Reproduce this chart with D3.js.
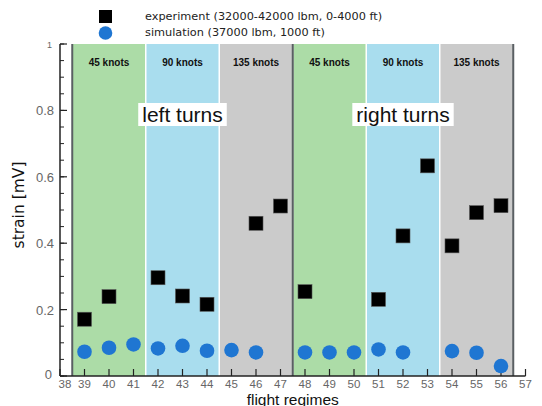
<!DOCTYPE html>
<html><head><meta charset="utf-8">
<script src="https://cdn.jsdelivr.net/npm/d3@7"></script>
<style>body{margin:0;background:#fff}svg{display:block}text{font-family:"Liberation Sans",Arial,sans-serif}</style>
</head><body><svg id="c" width="542" height="406"></svg>
<script>
const expX = [39, 40, 42, 43, 44, 46, 47, 48, 51, 52, 53, 54, 55, 56];
const expY = [0.171, 0.239, 0.296, 0.241, 0.216, 0.46, 0.512, 0.254, 0.231, 0.422, 0.633, 0.392, 0.492, 0.513];
const simX = [39, 40, 41, 42, 43, 44, 45, 46, 48, 49, 50, 51, 52, 54, 55, 56];
const simY = [0.073, 0.085, 0.095, 0.083, 0.091, 0.076, 0.078, 0.071, 0.071, 0.071, 0.071, 0.080, 0.071, 0.075, 0.070, 0.030];
const bandStarts = [38.5, 41.5, 44.5, 47.5, 50.5, 53.5];
const bandLabels = ["45 knots", "90 knots", "135 knots", "45 knots", "90 knots", "135 knots"];
const bandColors = ["#acdca7", "#a9ddee", "#cbcbcb", "#acdca7", "#a9ddee", "#cbcbcb"];
const dividers = [38.5, 47.5, 56.5];
const turnLabels = ["left turns", "right turns"];
const turnX = [43, 52];
const xTicks = d3.range(38, 58);
const yMajor = [0, 0.2, 0.4, 0.6, 0.8, 1];
const yMinor = d3.range(0, 1.0001, 0.05);
const legendLabels = ["experiment (32000-42000 lbm, 0-4000 ft)", "simulation (37000 lbm, 1000 ft)"];

const svg = d3.select("#c");
const x = d3.scaleLinear().domain([38, 57]).range([60, 525.5]);
const y = d3.scaleLinear().domain([0, 1]).range([376, 44]);

// bands
svg.append("g").selectAll("rect").data(bandStarts).join("rect")
  .attr("x", d => x(d)).attr("y", y(1))
  .attr("width", x(3) - x(0)).attr("height", y(0) - y(1))
  .attr("fill", (d, i) => bandColors[i]);
svg.append("g").selectAll("line").data(bandStarts.slice(1)).join("line")
  .attr("x1", d => x(d)).attr("x2", d => x(d)).attr("y1", y(1)).attr("y2", y(0))
  .attr("stroke", "#fff").attr("stroke-width", 1.5);
svg.append("g").selectAll("line").data(dividers).join("line")
  .attr("x1", d => x(d)).attr("x2", d => x(d)).attr("y1", y(1)).attr("y2", y(0))
  .attr("stroke", "#5a5f63").attr("stroke-width", 2);

// knots labels
svg.append("g").selectAll("text").data(bandStarts).join("text")
  .attr("x", d => x(d + 1.5)).attr("y", 66).attr("text-anchor", "middle")
  .attr("font-size", 10).attr("font-weight", "bold").attr("fill", "#111")
  .text((d, i) => bandLabels[i]);

// turn labels with white box
turnLabels.forEach((t, i) => {
  const g = svg.append("g");
  const tx = g.append("text").attr("x", x(turnX[i])).attr("y", 122)
    .attr("text-anchor", "middle").attr("font-size", 21).attr("fill", "#111").text(t);
  const bb = tx.node().getBBox();
  g.insert("rect", "text").attr("x", bb.x - 4).attr("y", 103).attr("width", bb.width + 8).attr("height", 23).attr("fill", "#fff");
});

// axes
const ax = svg.append("g").attr("stroke", "#222").attr("fill", "none");
ax.append("line").attr("x1", x(38)).attr("x2", x(57)).attr("y1", y(0)).attr("y2", y(0)).attr("stroke-width", 1.5);
ax.append("line").attr("x1", x(38)).attr("x2", x(38)).attr("y1", y(0)).attr("y2", y(1)).attr("stroke-width", 1.5);
ax.selectAll(".xt").data(xTicks).join("line").attr("class", "xt")
  .attr("x1", d => x(d)).attr("x2", d => x(d)).attr("y1", y(0)).attr("y2", y(0) - 7).attr("stroke-width", 1.2);
ax.selectAll(".ymi").data(yMinor).join("line").attr("class", "ymi")
  .attr("x1", x(38)).attr("x2", x(38) + 4).attr("y1", d => y(d)).attr("y2", d => y(d)).attr("stroke-width", 1);
ax.selectAll(".yma").data(yMajor).join("line").attr("class", "yma")
  .attr("x1", x(38)).attr("x2", x(38) + 7).attr("y1", d => y(d)).attr("y2", d => y(d)).attr("stroke-width", 1.2);

// tick labels
svg.append("g").selectAll("text").data(xTicks).join("text")
  .attr("x", d => x(d) + (d === 38 ? 5 : 0)).attr("y", 387.5)
  .attr("text-anchor", "middle").attr("font-size", 11.5).attr("fill", "#666")
  .text(d => d);
svg.append("g").selectAll("text").data(yMajor).join("text")
  .attr("x", d => d === 0 ? 52 : (d === 1 ? 52 : 54)).attr("y", d => d === 0 ? y(d) + 3 : (d === 1 ? y(d) + 4 : y(d) + 5))
  .attr("text-anchor", "end").attr("font-size", d => d === 1 ? 9 : 13).attr("fill", "#666")
  .text(d => d === 0 ? "0" : (d === 1 ? "1" : d3.format(".1f")(d)));

// axis titles
svg.append("text").attr("x", x(47.5)).attr("y", 404.5).attr("text-anchor", "middle")
  .attr("font-size", 15.5).attr("fill", "#111").text("flight regimes");
svg.append("text").attr("transform", "translate(24,205) rotate(-90)").attr("text-anchor", "middle")
  .style("font-family", "'DejaVu Sans', sans-serif")
  .attr("font-size", 15.5).attr("fill", "#111").text("strain [mV]");

// data
svg.append("g").selectAll("circle").data(simX).join("circle")
  .attr("cx", d => x(d)).attr("cy", (d, i) => y(simY[i])).attr("r", 7.3).attr("fill", "#1f76d2");
svg.append("g").selectAll("rect").data(expX).join("rect")
  .attr("x", d => x(d) - 7).attr("y", (d, i) => y(expY[i]) - 7).attr("width", 14).attr("height", 14)
  .attr("fill", "#000").attr("stroke", "#555").attr("stroke-width", 0.6);

// legend
const lg = svg.append("g");
lg.append("rect").attr("x", 99).attr("y", 10).attr("width", 13).attr("height", 13).attr("fill", "#000");
lg.append("circle").attr("cx", 105.5).attr("cy", 33).attr("r", 6.8).attr("fill", "#1f76d2");
lg.selectAll("text").data(legendLabels).join("text")
  .attr("x", 145).attr("y", (d, i) => 20 + i * 16)
  .style("font-family", "'DejaVu Sans', sans-serif")
  .attr("font-size", 11.3).attr("fill", "#222").text(d => d);
</script></body></html>
